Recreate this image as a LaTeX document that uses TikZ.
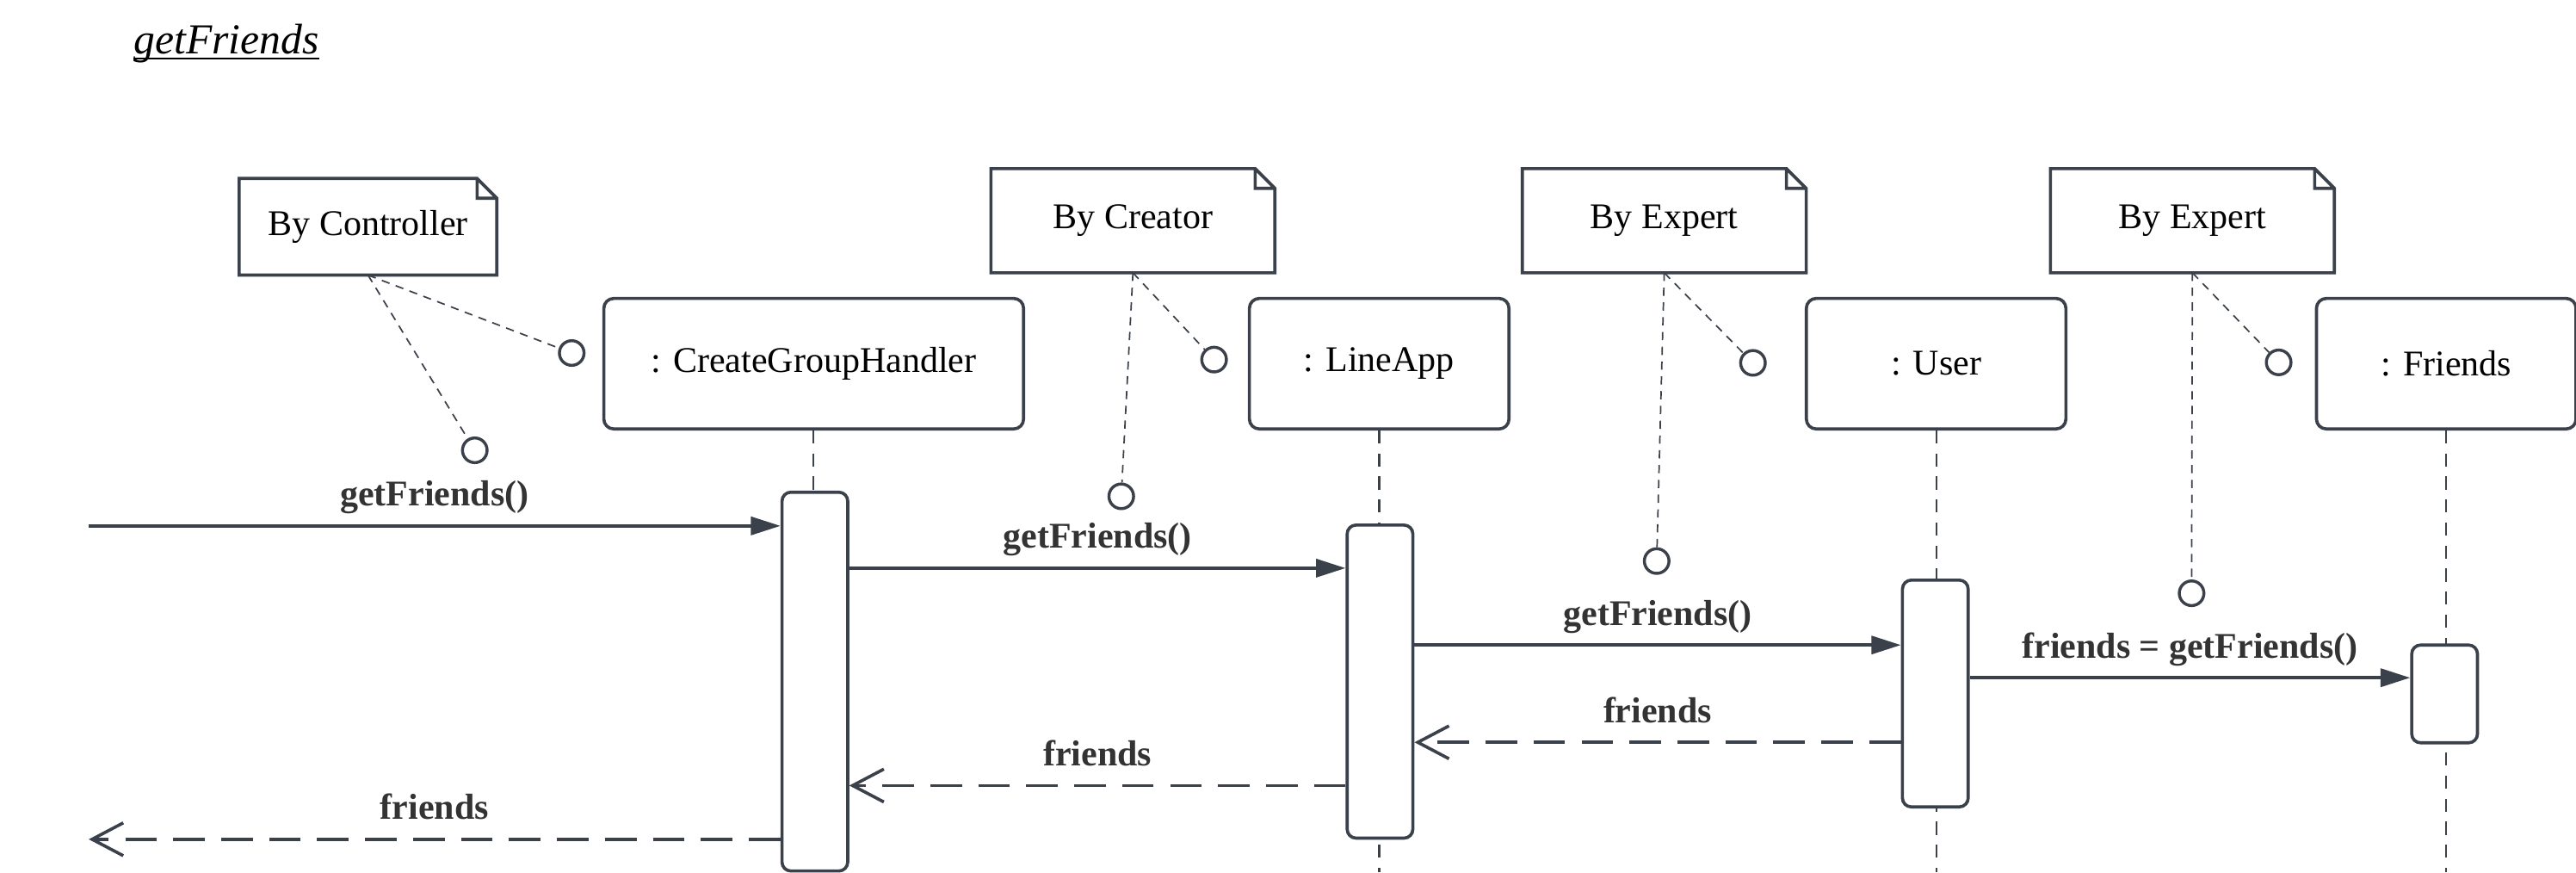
\documentclass[tikz,border=0pt]{standalone}
\usepackage{fontspec}
\setmainfont{Liberation Serif}
\usetikzlibrary{arrows.meta}
\definecolor{umlline}{HTML}{3A414A}
\definecolor{umltext}{HTML}{333333}

\begin{document}
\begin{tikzpicture}[x=0.5pt,y=-0.5pt,
  every node/.style={font=\fontsize{11}{13}\selectfont},
  lifehead/.style={draw=umlline, line width=0.95pt, rounded corners=3pt, minimum width=79pt, minimum height=39.7pt, inner sep=0pt},
  actbar/.style={draw=umlline, fill=white, line width=0.95pt, rounded corners=2.7pt, minimum width=20pt, inner sep=0pt},
  notebox/.style={minimum width=86pt, minimum height=31.3pt, inner sep=0pt},
  lifeline/.style={draw=umlline, line width=0.55pt, dash pattern=on 4pt off 3pt},
  anchorline/.style={draw=umlline, line width=0.45pt, dash pattern=on 2.5pt off 2pt},
  socket/.style={circle, draw=umlline, line width=0.9pt, minimum size=7.5pt, inner sep=0pt},
  callmsg/.style={draw=umlline, line width=0.95pt, -{Triangle[length=9pt,width=5.5pt]}},
  replymsg/.style={draw=umlline, line width=0.95pt, dash pattern=on 9.6pt off 5pt, -{Straight Barb[length=9.5pt,width=10pt]}},
  msglabel/.style={font=\fontsize{11}{13}\selectfont\bfseries, text=umltext, text depth=2.3pt, inner sep=3.3pt, above}
]
\useasboundingbox (0,0) rectangle (1568,530.7);

\node[anchor=base west, inner sep=0pt, font=\fontsize{13}{15}\selectfont\itshape] (title) at (81,33) {getFriends};
\draw[line width=0.55pt] ([yshift=-1.4pt]title.base west) -- ([yshift=-1.4pt]title.base east);

\node[notebox, minimum width=78pt, minimum height=29pt] (nc) at (224,138) {By Controller};
\node[notebox] (ncr) at (689.6,134.3) {By Creator};
\node[notebox] (nx1) at (1013,134.3) {By Expert};
\node[notebox] (nx2) at (1334.5,134.3) {By Expert};
\foreach \n in {nc,ncr,nx1,nx2}
  \draw[umlline, line width=0.95pt] (\n.north west) -- ([xshift=-6pt]\n.north east) -- ([yshift=-6pt]\n.north east)
    -- (\n.south east) -- (\n.south west) -- cycle
    ([xshift=-6pt]\n.north east) |- ([yshift=-6pt]\n.north east);

\node[lifehead, minimum width=127.75pt] (handler) at (495.3,221.3) {: CreateGroupHandler};
\node[lifehead] (lineapp) at (839.5,221.3) {: LineApp};
\node[lifehead] (user) at (1178.5,221.3) {: User};
\node[lifehead] (friends) at (1489,221.3) {: Friends};

\coordinate (e1) at (495.3,530.7);
\coordinate (e2) at (839.5,530.7);
\coordinate (e3) at (1178.5,530.7);
\coordinate (e4) at (1489,530.7);
\draw[lifeline] (handler) -- (e1);
\draw[lifeline] (lineapp) -- (e2);
\draw[lifeline] (user) -- (e3);
\draw[lifeline] (friends) -- (e4);

\node[actbar, minimum height=115.25pt] (a1) at (496,414.75) {};
\node[actbar, minimum height=95.25pt] (a2) at (840,414.75) {};
\node[actbar, minimum height=69pt] (a3) at (1178,422) {};
\node[actbar, minimum height=29.75pt] (a4) at (1488,422.25) {};

\node[socket] (s1) at (348,214.8) {};
\node[socket] (s2) at (289,274) {};
\node[socket] (s3) at (739,218.8) {};
\node[socket] (s4) at (682.5,302) {};
\node[socket] (s5) at (1067,220.8) {};
\node[socket] (s6) at (1008.4,341.4) {};
\node[socket] (s7) at (1387,220.5) {};
\node[socket] (s8) at (1334,361) {};
\draw[anchorline] (nc.south) -- (s1);
\draw[anchorline] (nc.south) -- (s2);
\draw[anchorline] (ncr.south) -- (s3);
\draw[anchorline] (ncr.south) -- (s4);
\draw[anchorline] (nx1.south) -- (s5);
\draw[anchorline] (nx1.south) -- (s6);
\draw[anchorline] (nx2.south) -- (s7);
\draw[anchorline] (nx2.south) -- (s8);

\coordinate (in) at (54,320);
\coordinate (out) at (54,510.7);
\coordinate (r2) at (0,345.7);
\coordinate (r3) at (0,392.5);
\coordinate (r4) at (0,412.4);
\coordinate (r5) at (0,451.7);
\coordinate (r6) at (0,478);

\draw[callmsg] (in) -- (a1.west |- in) node[msglabel, midway] {getFriends()};
\draw[callmsg] (a1.east |- r2) -- (a2.west |- r2) node[msglabel, midway] {getFriends()};
\draw[callmsg] (a2.east |- r3) -- (a3.west |- r3) node[msglabel, midway] {getFriends()};
\draw[callmsg] (a3.east |- r4) -- (a4.west |- r4) node[msglabel, midway] {friends = getFriends()};
\draw[replymsg] (a3.west |- r5) -- (a2.east |- r5) node[msglabel, midway] {friends};
\draw[replymsg] (a2.west |- r6) -- (a1.east |- r6) node[msglabel, midway] {friends};
\draw[replymsg] (a1.west |- out) -- (out) node[msglabel, midway] {friends};
\end{tikzpicture}
\end{document}
